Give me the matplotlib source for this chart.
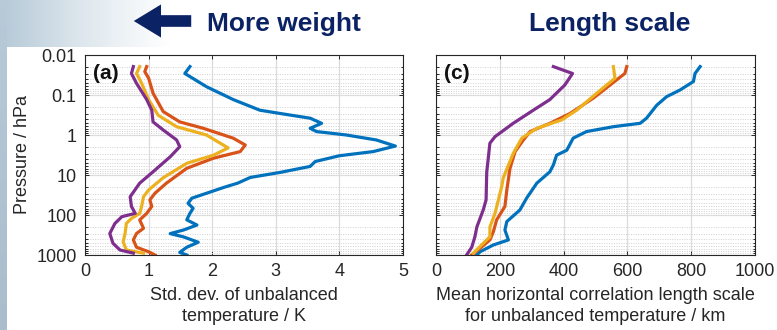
import numpy as np
import matplotlib
matplotlib.use("Agg")
import matplotlib.pyplot as plt
from matplotlib.ticker import NullFormatter, LogLocator

plt.rcParams['font.family'] = ['Liberation Sans', 'DejaVu Sans']

# ---- data ----
p_ticks = [0.01, 0.1, 1, 10, 100, 1000]
p_ticklabels = ['0.01', '0.1', '1', '10', '100', '1000']
std_ticks = [0, 1, 2, 3, 4, 5]
len_ticks = [0, 200, 400, 600, 800, 1000]

# panel (a): std dev of unbalanced temperature (K)
a_blue_p = [0.0195, 0.029, 0.062, 0.13, 0.24, 0.29, 0.38, 0.51, 0.68, 0.82, 1.0, 1.33, 1.89, 2.6, 3.3, 4.6, 6.1,
            8.6, 11.5, 16, 20, 28.6, 38, 51, 68, 91, 132, 178, 237, 292, 353, 480, 640, 860, 1000]
a_blue_v = [1.65, 1.57, 1.91, 2.33, 2.75, 3.07, 3.54, 3.72, 3.54, 3.64, 4.11, 4.58, 4.88, 4.53, 4.0, 3.62, 3.54,
            3.07, 2.6, 2.4, 2.2, 1.91, 1.68, 1.62, 1.70, 1.65, 1.60, 1.76, 1.55, 1.34, 1.55, 1.78, 1.60, 1.49, 1.6]

a_red_p = [0.0195, 0.026, 0.038, 0.09, 0.26, 0.47, 0.68, 1.2, 1.78, 2.6, 3.8, 6.8, 16, 28.6, 42, 61, 91, 133,
           215, 290, 420, 640, 830, 1000]
a_red_v = [0.97, 0.94, 1.0, 1.07, 1.23, 1.49, 1.86, 2.33, 2.52, 2.44, 2.02, 1.60, 1.28, 1.10, 1.02, 1.05, 0.97,
           0.86, 0.92, 0.81, 0.76, 0.81, 1.0, 1.1]

a_yel_p = [0.0195, 0.029, 0.051, 0.13, 0.32, 0.62, 1.0, 2.1, 3.2, 5.1, 11.7, 23.7, 35, 61, 91, 122, 163, 290,
           470, 750, 900]
a_yel_v = [0.86, 0.81, 0.89, 1.0, 1.15, 1.44, 1.91, 2.25, 2.02, 1.60, 1.23, 1.0, 0.92, 0.89, 0.86, 0.73, 0.65,
           0.63, 0.60, 0.65, 0.92]

a_pur_p = [0.0195, 0.029, 0.051, 0.13, 0.24, 0.47, 0.75, 1.33, 1.96, 3.5, 8.3, 16, 35, 61, 91, 110, 163, 290,
           510, 750, 900]
a_pur_v = [0.76, 0.73, 0.81, 0.97, 1.05, 1.07, 1.23, 1.44, 1.49, 1.34, 1.07, 0.86, 0.71, 0.73, 0.79, 0.58, 0.47,
           0.39, 0.44, 0.55, 0.76]

# panel (c): horizontal correlation length scale (km)
c_blue_p = [0.0195, 0.029, 0.046, 0.075, 0.11, 0.18, 0.38, 0.51, 0.62, 0.82, 1.2, 2.4, 3.2, 5.6, 8.3, 16, 38,
            75, 146, 237, 420, 560, 830, 1000]
c_blue_v = [828, 812, 807, 765, 723, 692, 660, 640, 556, 472, 430, 410, 378, 368, 357, 316, 284,
            263, 222, 216, 227, 180, 138, 128]

c_red_p = [0.0195, 0.029, 0.042, 0.12, 0.29, 0.51, 0.82, 1.33, 2.6, 6.8, 23.7, 61, 133, 260, 420, 680, 1000]
c_red_v = [598, 592, 566, 493, 420, 357, 295, 274, 248, 232, 222, 216, 190, 180, 169, 138, 112]

c_yel_p = [0.0195, 0.038, 0.09, 0.24, 0.42, 0.68, 1.2, 2.9, 11.7, 19.5, 91, 200, 350, 510, 900]
c_yel_v = [556, 561, 504, 441, 394, 316, 269, 242, 211, 206, 185, 169, 169, 148, 117]

c_pur_p = [0.0195, 0.029, 0.056, 0.13, 0.24, 0.51, 1.1, 1.6, 8.6, 42, 75, 200, 350, 640, 1000]
c_pur_v = [368, 428, 404, 357, 305, 242, 185, 169, 159, 157, 148, 128, 122, 112, 96]

blue, red, yel, pur = '#0072BD', '#D95319', '#EDB120', '#7E2F8E'
navy = '#0B2265'

W, H = 777, 330
fig = plt.figure(figsize=(W / 100, H / 100), dpi=100)

# background decoration (slide texture) in pixel coordinates
bg = fig.add_axes([0, 0, 1, 1], zorder=-5)
bg.axis('off')
grad = np.linspace(0, 1, 200)[None, :]
cmap = matplotlib.colors.LinearSegmentedColormap.from_list('bgc', ['#b5c9d7', '#dfe8ee', '#ffffff'])
bg.imshow(grad, extent=(0, 170, 47, 0), cmap=cmap, aspect='auto')
bg.imshow(np.linspace(0, 1, 50)[:, None], extent=(0, 7, H, 0),
          cmap=matplotlib.colors.LinearSegmentedColormap.from_list('s', ['#b7cad8', '#a9bdcc']), aspect='auto')
bg.set_xlim(0, W)
bg.set_ylim(H, 0)
bg.annotate('', xy=(131, 21), xytext=(194, 21),
            arrowprops=dict(arrowstyle='simple,head_length=1.4,head_width=1.7,tail_width=0.6',
                            color=navy, lw=0, mutation_scale=14))
fig.text(284 / W, 1 - 24 / H, 'More weight', color=navy, fontsize=19, fontweight='bold',
         ha='center', va='center')
fig.text(610 / W, 1 - 24 / H, 'Length scale', color=navy, fontsize=19, fontweight='bold',
         ha='center', va='center')

ax1 = fig.add_axes([85 / W, 1 - 255 / H, 318 / W, 200 / H])
ax2 = fig.add_axes([436 / W, 1 - 255 / H, 319 / W, 200 / H])

lw = 2.3
ax1.plot(a_blue_v, a_blue_p, color=blue, lw=lw)
ax1.plot(a_red_v, a_red_p, color=red, lw=lw)
ax1.plot(a_yel_v, a_yel_p, color=yel, lw=lw)
ax1.plot(a_pur_v, a_pur_p, color=pur, lw=lw)

ax2.plot(c_blue_v, c_blue_p, color=blue, lw=lw)
ax2.plot(c_red_v, c_red_p, color=red, lw=lw)
ax2.plot(c_yel_v, c_yel_p, color=yel, lw=lw)
ax2.plot(c_pur_v, c_pur_p, color=pur, lw=lw)

for ax, xt, label, tag in [(ax1, std_ticks, 'Std. dev. of unbalanced\ntemperature / K', '(a)'),
                           (ax2, len_ticks, 'Mean horizontal correlation length scale\nfor unbalanced temperature / km', '(c)')]:
    ax.set_yscale('log')
    ax.set_ylim(1000, 0.01)
    ax.set_xlim(xt[0], xt[-1])
    ax.set_xticks(xt)
    ax.set_yticks(p_ticks)
    ax.yaxis.set_minor_locator(LogLocator(base=10, subs=np.arange(2, 10)))
    ax.yaxis.set_minor_formatter(NullFormatter())
    ax.grid(True, which='major', color='#dcdcdc', lw=0.9, ls='-')
    ax.grid(True, which='minor', axis='y', color='#d0d0d0', lw=0.7, ls=(0, (1, 1.5)))
    ax.set_axisbelow(True)
    ax.tick_params(which='both', direction='in', top=True, right=True, colors='#262626',
                   labelsize=13, length=3, width=0.7, pad=6)
    ax.tick_params(which='minor', length=1.8)
    for s in ax.spines.values():
        s.set_color('#262626')
        s.set_linewidth(0.8)
    ax.set_xlabel(label, fontsize=13, color='#262626', labelpad=5, linespacing=1.25)
    ax.text(0.025, 0.955, tag, transform=ax.transAxes, fontsize=15, fontweight='bold',
            ha='left', va='top', color='#111111')

ax1.set_yticklabels(p_ticklabels)
ax2.set_yticklabels([])
ax1.set_ylabel('Pressure / hPa', fontsize=13, color='#262626', labelpad=4)

fig.savefig('out.png', dpi=100)
